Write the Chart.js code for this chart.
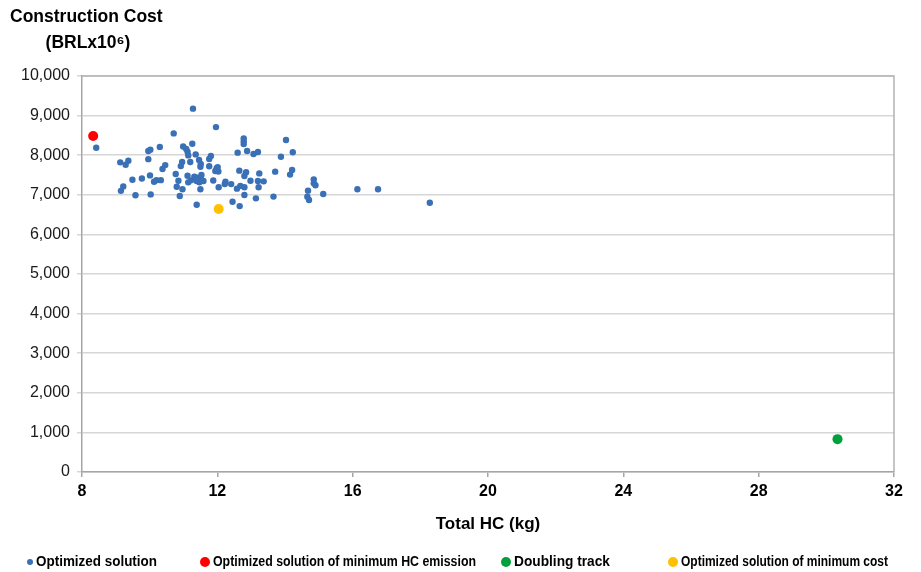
<!DOCTYPE html>
<html>
<head>
<meta charset="utf-8">
<script src="https://cdn.jsdelivr.net/npm/chart.js@4.4.1/dist/chart.umd.min.js"></script>
<style>
  html, body { margin: 0; padding: 0; background: #fff; }
  #wrap { width: 921px; height: 572px; }
</style>
</head>
<body>
<div id="wrap"><canvas id="chart"></canvas></div>
<script>
// 数据
const optimizedHC = [
  8.42, 9.13, 9.29, 9.37, 9.15, 9.22, 9.49, 9.58, 9.77, 9.96,
  10.02, 9.96, 10.30, 10.01, 10.13, 10.20, 10.33, 10.03, 10.38, 10.46,
  10.71, 11.28, 11.96, 10.99, 11.08, 11.26, 11.12, 11.14, 11.36, 10.96,
  10.92, 11.20, 11.46, 11.51, 11.50, 11.76, 11.81, 11.76, 11.98, 12.03,
  12.01, 11.94, 10.77, 10.85, 10.80, 10.97, 10.89, 11.12, 11.14, 11.22,
  11.32, 11.42, 11.39, 11.51, 11.59, 11.47, 11.53, 11.39, 11.50, 11.88,
  12.04, 12.24, 12.22, 12.41, 12.58, 12.68, 12.45, 12.66, 12.60, 12.65,
  12.78, 12.78, 12.78, 12.88, 13.07, 13.20, 14.03, 13.88, 14.23, 12.85,
  12.80, 13.24, 13.71, 14.21, 14.15, 12.98, 13.20, 13.37, 13.22, 12.80,
  12.80, 13.14, 13.66, 14.85, 14.85, 14.90, 14.68, 14.66, 14.71, 15.13,
  16.14, 16.75, 18.28
]
const optimizedCost = [
  8190, 7820, 7760, 7860, 7100, 7210, 7380, 6990, 7410, 8105,
  8140, 7900, 8210, 7490, 7330, 7370, 7370, 7010, 7650, 7750,
  8550, 9175, 8710, 8220, 8155, 8290, 8090, 7995, 8020, 7830,
  7725, 7830, 7880, 7780, 7710, 7720, 7980, 7905, 7670, 7590,
  7700, 7600, 7525, 7355, 7205, 7140, 6970, 7480, 7315, 7365,
  7455, 7430, 7350, 7415, 7350, 7315, 7500, 6750, 7140, 7360,
  7190, 7330, 7270, 7270, 7155, 7225, 6825, 6715, 8065, 7610,
  8425, 8355, 8280, 8105, 8030, 8080, 8385, 7960, 8075, 7570,
  7475, 7540, 7585, 7625, 7510, 7355, 7350, 7340, 7190, 7190,
  6995, 6910, 6955, 7390, 7290, 7240, 7105, 6950, 6870, 7020,
  7140, 7140, 6800
]
const minHCPoint = [8.33, 8485]
const doublingPoint = [30.33, 830]
const minCostPoint = [12.04, 6640]

const xTicks = [8, 12, 16, 20, 24, 28, 32]
const yTicks = [0, 1000, 2000, 3000, 4000, 5000, 6000, 7000, 8000, 9000, 10000]

const seriesNames = [
  'Optimized solution',
  'Optimized solution of minimum HC emission',
  'Doubling track',
  'Optimized solution of minimum cost'
]

// 样式
const colors = ['#3a70b6', '#ff0000', '#00a03c', '#ffc000']
const radii = [3.2, 5, 5, 5]
const AXIS_FONT = 'Arial, "Liberation Sans", sans-serif'
const legendX = [30, 205, 506, 673]
const legendTextWidth = [121, 263, 96, 207]

const toPoint = ([x, y]) => ({ x, y })

const datasets = [
  { data: optimizedHC.map((x, i) => ({ x, y: optimizedCost[i] })) },
  { data: [toPoint(minHCPoint)] },
  { data: [toPoint(doublingPoint)] },
  { data: [toPoint(minCostPoint)] }
].map((ds, i) => ({
  ...ds,
  label: seriesNames[i],
  backgroundColor: colors[i],
  borderColor: colors[i],
  pointRadius: radii[i],
  pointHoverRadius: radii[i],
  borderWidth: 0,
  order: i === 0 ? 1 : 0
}))

// Y轴标题、外框、图例
const decorPlugin = {
  id: 'decor',
  beforeDatasetsDraw(chart) {
    const { ctx, chartArea: a } = chart
    ctx.save()
    ctx.strokeStyle = '#b4b4b4'
    ctx.lineWidth = 1.5
    ctx.beginPath()
    ctx.moveTo(a.left, a.top)
    ctx.lineTo(a.right, a.top)
    ctx.lineTo(a.right, a.bottom)
    ctx.stroke()
    ctx.restore()
  },
  afterDraw(chart) {
    const { ctx } = chart
    ctx.save()
    ctx.fillStyle = '#000'
    ctx.font = 'bold 17.5px ' + AXIS_FONT
    ctx.textBaseline = 'middle'
    ctx.textAlign = 'left'
    ctx.fillText('Construction Cost', 10, 17)
    ctx.textAlign = 'center'
    ctx.fillText('(BRLx10⁶)', 88, 43)

    // 图例（窄体字，横向压缩）
    ctx.font = 'bold 15px ' + AXIS_FONT
    ctx.textAlign = 'left'
    seriesNames.forEach((name, i) => {
      const r = i === 0 ? 3 : 5
      ctx.fillStyle = colors[i]
      ctx.beginPath()
      ctx.arc(legendX[i], 562, r, 0, Math.PI * 2)
      ctx.fill()
      ctx.save()
      ctx.translate(legendX[i] + r + 3, 562)
      ctx.scale(legendTextWidth[i] / ctx.measureText(name).width, 1)
      ctx.fillStyle = '#000'
      ctx.fillText(name, 0, 0)
      ctx.restore()
    })
    ctx.restore()
  }
}

new Chart(document.getElementById('chart').getContext('2d'), {
  type: 'scatter',
  data: { datasets },
  options: {
    responsive: true,
    maintainAspectRatio: false,
    animation: false,
    layout: { padding: { left: 0, top: 76, right: 27, bottom: 37 } },
    plugins: {
      legend: { display: false },
      tooltip: { enabled: false }
    },
    scales: {
      x: {
        type: 'linear',
        min: 8,
        max: 32,
        afterBuildTicks: scale => { scale.ticks = xTicks.map(v => ({ value: v })) },
        afterFit: scale => { scale.height = 63 },
        border: { color: '#a6a6a6', width: 1.5 },
        grid: { drawOnChartArea: false, tickLength: 5, color: '#a6a6a6', lineWidth: 1.5 },
        ticks: {
          padding: 5,
          color: '#000',
          font: { family: AXIS_FONT, size: 16, weight: 'bold' }
        },
        title: {
          display: true,
          text: 'Total HC (kg)',
          color: '#000',
          padding: { top: 0, bottom: 0 },
          font: { family: AXIS_FONT, size: 17, weight: 'bold' }
        }
      },
      y: {
        type: 'linear',
        min: 0,
        max: 10000,
        afterBuildTicks: scale => { scale.ticks = yTicks.map(v => ({ value: v })) },
        afterFit: scale => { scale.width = 82 },
        border: { color: '#a6a6a6', width: 1.5 },
        grid: { color: '#d6d6d6', lineWidth: 1.5, tickLength: 5 },
        ticks: {
          padding: 7,
          color: '#1a1a1a',
          font: { family: AXIS_FONT, size: 16 },
          callback: v => v.toLocaleString('en-US')
        }
      }
    }
  },
  plugins: [decorPlugin]
})
</script>
</body>
</html>
